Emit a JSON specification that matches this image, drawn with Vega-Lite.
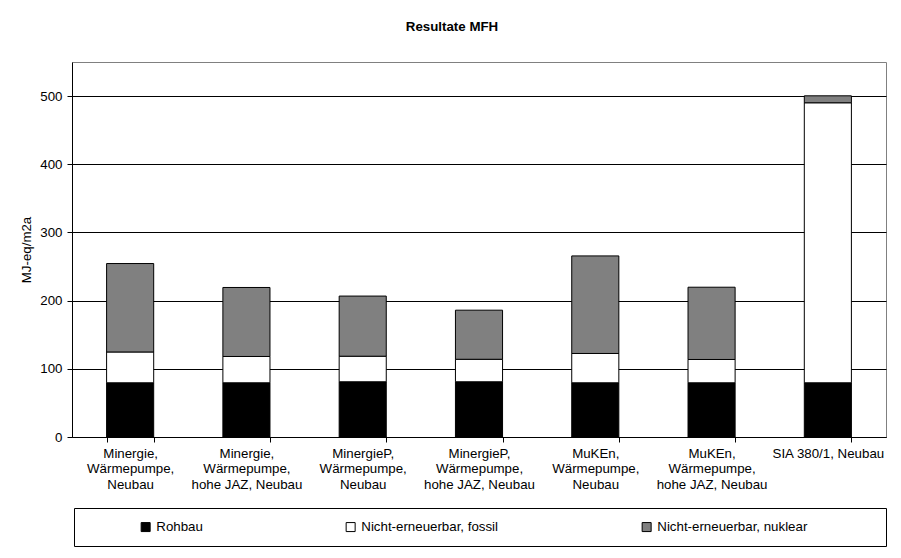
{
  "$schema": "https://vega.github.io/schema/vega-lite/v6.json",
  "autosize": {"type": "none"},
  "padding": {"left": 72, "top": 62, "right": 15, "bottom": 121},
  "width": 814,
  "height": 375,
  "background": "white",
  "title": {"text": "Resultate MFH", "font": "Liberation Sans", "fontSize": 13.3, "fontWeight": "bold", "color": "black", "offset": 29, "dx": -27},
  "data": {"values": [
    {"v": "Minergie,|Wärmepumpe,|Neubau", "s": "Rohbau", "k": 1, "y": 79.5},
    {"v": "Minergie,|Wärmepumpe,|Neubau", "s": "Nicht-erneuerbar, fossil", "k": 2, "y": 45.2},
    {"v": "Minergie,|Wärmepumpe,|Neubau", "s": "Nicht-erneuerbar, nuklear", "k": 3, "y": 129.7},
    {"v": "Minergie,|Wärmepumpe,|hohe JAZ, Neubau", "s": "Rohbau", "k": 1, "y": 79.5},
    {"v": "Minergie,|Wärmepumpe,|hohe JAZ, Neubau", "s": "Nicht-erneuerbar, fossil", "k": 2, "y": 38.6},
    {"v": "Minergie,|Wärmepumpe,|hohe JAZ, Neubau", "s": "Nicht-erneuerbar, nuklear", "k": 3, "y": 101.2},
    {"v": "MinergieP,|Wärmepumpe,|Neubau", "s": "Rohbau", "k": 1, "y": 81},
    {"v": "MinergieP,|Wärmepumpe,|Neubau", "s": "Nicht-erneuerbar, fossil", "k": 2, "y": 37.5},
    {"v": "MinergieP,|Wärmepumpe,|Neubau", "s": "Nicht-erneuerbar, nuklear", "k": 3, "y": 88.2},
    {"v": "MinergieP,|Wärmepumpe,|hohe JAZ, Neubau", "s": "Rohbau", "k": 1, "y": 81},
    {"v": "MinergieP,|Wärmepumpe,|hohe JAZ, Neubau", "s": "Nicht-erneuerbar, fossil", "k": 2, "y": 33},
    {"v": "MinergieP,|Wärmepumpe,|hohe JAZ, Neubau", "s": "Nicht-erneuerbar, nuklear", "k": 3, "y": 72},
    {"v": "MuKEn,|Wärmepumpe,|Neubau", "s": "Rohbau", "k": 1, "y": 79.5},
    {"v": "MuKEn,|Wärmepumpe,|Neubau", "s": "Nicht-erneuerbar, fossil", "k": 2, "y": 43},
    {"v": "MuKEn,|Wärmepumpe,|Neubau", "s": "Nicht-erneuerbar, nuklear", "k": 3, "y": 143.1},
    {"v": "MuKEn,|Wärmepumpe,|hohe JAZ, Neubau", "s": "Rohbau", "k": 1, "y": 79.5},
    {"v": "MuKEn,|Wärmepumpe,|hohe JAZ, Neubau", "s": "Nicht-erneuerbar, fossil", "k": 2, "y": 34.2},
    {"v": "MuKEn,|Wärmepumpe,|hohe JAZ, Neubau", "s": "Nicht-erneuerbar, nuklear", "k": 3, "y": 106},
    {"v": "SIA 380/1, Neubau", "s": "Rohbau", "k": 1, "y": 79.5},
    {"v": "SIA 380/1, Neubau", "s": "Nicht-erneuerbar, fossil", "k": 2, "y": 410.7},
    {"v": "SIA 380/1, Neubau", "s": "Nicht-erneuerbar, nuklear", "k": 3, "y": 10.2}
  ]},
  "mark": {"type": "bar", "stroke": "black", "strokeWidth": 1},
  "encoding": {
    "x": {
      "field": "v", "type": "nominal", "sort": null,
      "scale": {"paddingInner": 0.595, "paddingOuter": 0.2975},
      "axis": {
        "title": null, "labelAngle": 0, "labelExpr": "datum.value ? split(datum.value, '|') : ''",
        "labelFont": "Liberation Sans", "labelFontSize": 13.3, "labelColor": "black",
        "labelLineHeight": 15.5, "labelBaseline": "top", "labelPadding": 4, "labelLimit": 200,
        "tickBand": "extent", "tickSize": 5, "tickColor": "black", "domainColor": "black",
        "grid": false
      }
    },
    "y": {
      "field": "y", "type": "quantitative", "stack": "zero",
      "scale": {"domain": [0, 550], "nice": false},
      "axis": {
        "title": "MJ-eq/m2a", "values": [0, 100, 200, 300, 400, 500],
        "titleFont": "Liberation Sans", "titleFontSize": 13.3, "titleFontWeight": "normal", "titleColor": "black", "titlePadding": 6,
        "labelFont": "Liberation Sans", "labelFontSize": 13.3, "labelColor": "black", "labelPadding": 5,
        "tickSize": 5, "tickColor": "black", "domainColor": "black",
        "grid": true, "gridColor": "black", "gridWidth": 1
      }
    },
    "color": {
      "field": "s", "type": "nominal",
      "scale": {"domain": ["Rohbau", "Nicht-erneuerbar, fossil", "Nicht-erneuerbar, nuklear"], "range": ["#000000", "#ffffff", "#808080"]},
      "legend": {
        "orient": "none", "legendX": 2, "legendY": 446, "direction": "horizontal",
        "title": "\u00a0", "titleOrient": "left", "titlePadding": 53, "titleFontSize": 11,
        "labelExpr": "datum.value == 'Nicht-erneuerbar, nuklear' ? datum.label + '\u00a0\u00a0\u00a0\u00a0\u00a0\u00a0\u00a0\u00a0\u00a0\u00a0\u00a0\u00a0\u00a0\u00a0\u00a0\u00a0\u00a0\u00a0\u200b' : datum.label",
        "symbolType": "square", "symbolSize": 81, "symbolStrokeColor": "black", "symbolStrokeWidth": 1,
        "labelFont": "Liberation Sans", "labelFontSize": 13.3, "labelColor": "black", "labelOffset": 4,
        "columnPadding": 141, "padding": 12, "strokeColor": "black", "labelLimit": 400
      }
    },
    "order": {"field": "k", "type": "quantitative"}
  },
  "config": {
    "view": {"stroke": "#808080", "strokeWidth": 1},
    "axis": {"domainWidth": 1, "tickWidth": 1}
  }
}
